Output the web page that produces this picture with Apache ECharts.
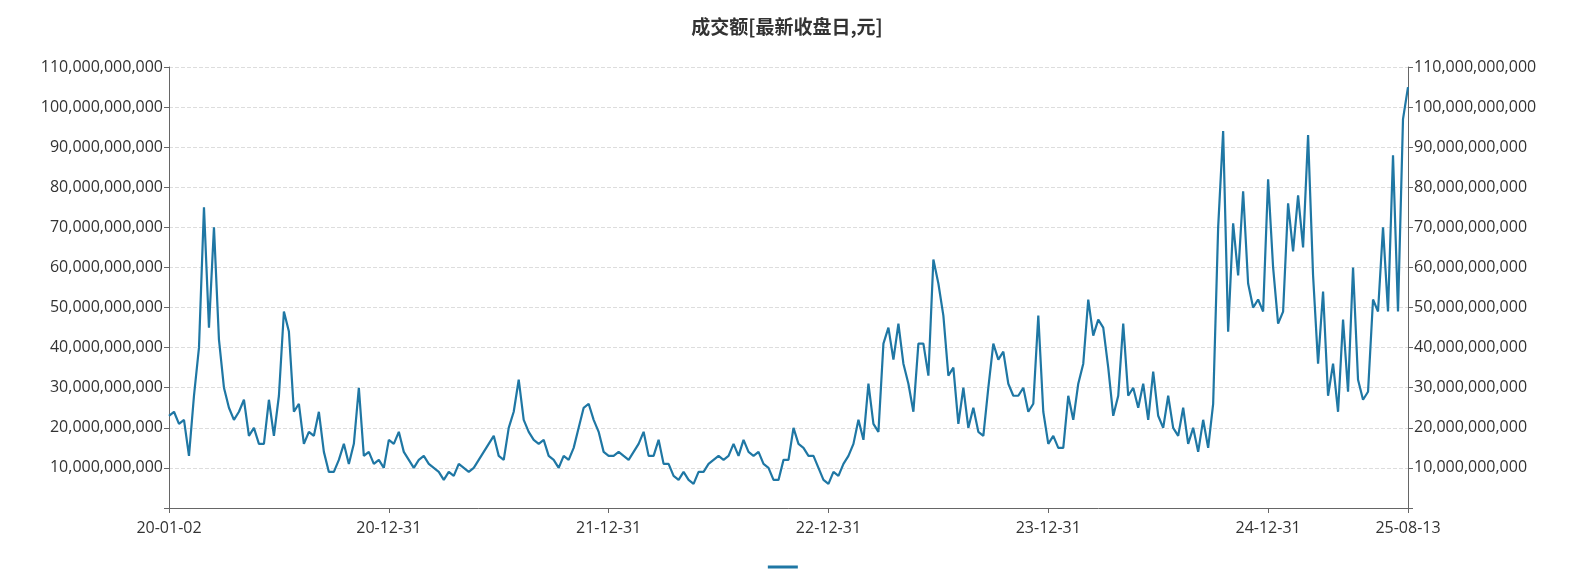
<!DOCTYPE html>
<html><head><meta charset="utf-8">
<script src="https://cdn.jsdelivr.net/npm/echarts@6/dist/echarts.min.js"></script>
<style>html,body{margin:0;padding:0;background:#fff}#c{width:1574px;height:580px}</style>
</head><body><div id="c"></div>
<script>
// values in billions of yuan, sampled roughly weekly
const values = [23,24,21,22,13,28,40,75,45,70,42,30,25,22,24,27,18,20,16,16,27,18,28,49,44,24,26,16,19,18,24,14,9,9,12,16,11,16,30,13,14,11,12,10,
17,16,19,14,12,10,12,13,11,10,9,7,9,8,11,10,9,10,12,14,16,18,13,12,20,24,32,22,19,17,16,17,13,12,10,13,12,15,20,25,26,22,19,14,
13,13,14,13,12,14,16,19,13,13,17,11,11,8,7,9,7,6,9,9,11,12,13,12,13,16,13,17,14,13,14,11,10,7,7,12,12,20,16,15,13,13,10,7,
6,9,8,11,13,16,22,17,31,21,19,41,45,37,46,36,31,24,41,41,33,62,56,48,33,35,21,30,20,25,19,18,30,41,37,39,31,28,28,30,24,26,48,24,
16,18,15,15,28,22,31,36,52,43,47,45,35,23,28,46,28,30,25,31,22,34,23,20,28,20,18,25,16,20,14,22,15,26,70,94,44,71,58,79,56,50,52,49,
82,60,46,49,76,64,78,65,93,58,36,54,28,36,24,47,29,60,32,27,29,52,49,70,49,88,49,97,105];
const tickIndex = [0,44,88,132,176,220,248];
const tickLabels = ['20-01-02','20-12-31','21-12-31','22-12-31','23-12-31','24-12-31','25-08-13'];

const points = values.map((v,i)=>[i, v*1e9]);
const fmt = v => v===0 ? '' : Math.round(v).toLocaleString('en-US');
const font = '"Noto Sans CJK SC","Noto Sans",sans-serif';
const yAxisCommon = {
  type:'value', min:0, max:110e9, interval:10e9,
  axisLine:{show:true,lineStyle:{color:'#666'}},
  axisTick:{show:true,lineStyle:{color:'#666'}},
  axisLabel:{formatter:fmt,color:'#333',fontSize:16,fontFamily:'"Open Sans",sans-serif',margin:6},
};
const chart = echarts.init(document.getElementById('c'));
chart.setOption({
  animation:false,
  title:{text:'成交额[最新收盘日,元]',left:'center',top:12,textStyle:{fontSize:19,fontWeight:'bold',color:'#333',fontFamily:font}},
  legend:{bottom:2,left:'center',data:[{name:' '}],itemWidth:30,itemHeight:3,icon:'rect',textStyle:{fontSize:12}},
  grid:{left:169,right:166,top:67,bottom:72},
  xAxis:{type:'value',min:0,max:values.length-1,
    axisLine:{lineStyle:{color:'#666'}},
    splitLine:{show:false},
    axisTick:{customValues:tickIndex,lineStyle:{color:'#666'}},
    axisLabel:{customValues:tickIndex,formatter:v=>tickLabels[tickIndex.indexOf(v)]||'',color:'#333',fontSize:16,fontFamily:'"Open Sans",sans-serif',margin:12}},
  yAxis:[
    Object.assign({position:'left',splitLine:{show:true,lineStyle:{type:'dashed',color:'#ddd'}}},yAxisCommon),
    Object.assign({position:'right',splitLine:{show:false}},yAxisCommon)
  ],
  series:[{name:' ',type:'line',data:points,showSymbol:false,symbol:'none',lineStyle:{width:2.2,color:'#1f77a4'},itemStyle:{color:'#1f77a4'}}]
});
</script></body></html>
